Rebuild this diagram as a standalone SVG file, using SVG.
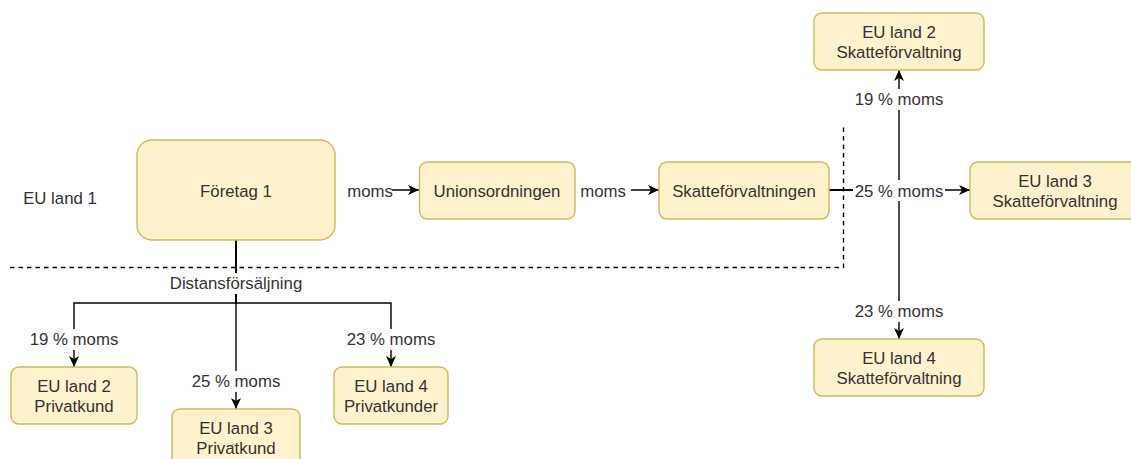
<svg xmlns="http://www.w3.org/2000/svg" width="1131" height="459" viewBox="0 0 1131 459">
<style>
.node{fill:#fff2cc;stroke:#d6b656;stroke-width:1.4}
.t{font-family:"Liberation Sans",Arial,sans-serif;font-size:16.8px;fill:#333333;text-anchor:middle}
.edge{fill:none;stroke:#000;stroke-width:1.4}
.dash{fill:none;stroke:#000;stroke-width:1.4;stroke-dasharray:4.5 4}
.bg{fill:#fff}
</style>
<defs>
<marker id="arr" markerUnits="userSpaceOnUse" markerWidth="12" markerHeight="12" viewBox="0 0 12 12" refX="11" refY="6" orient="auto">
<path d="M0,1 L11,6 L0,11 L3,6 z" fill="#000"/>
</marker>
</defs>
<rect width="1131" height="459" fill="#fff"/>
<g id="boundary">
<path class="dash" d="M10 267.5 H843.5 V127"/>
</g>
<text class="t" x="60" y="204">EU land 1</text>
<g id="connectors">
<path class="edge" d="M336 190 H419" marker-end="url(#arr)"/>
<path class="edge" d="M576 190 H659" marker-end="url(#arr)"/>
<path class="edge" d="M829 190 H970" marker-end="url(#arr)"/>
<path class="edge" d="M829 190 H899 V70" marker-end="url(#arr)"/>
<path class="edge" d="M829 190 H899 V339" marker-end="url(#arr)"/>
<path class="edge" d="M236 240 V303 H74 V367" marker-end="url(#arr)"/>
<path class="edge" d="M236 240 V409" marker-end="url(#arr)"/>
<path class="edge" d="M236 240 V303 H391 V367" marker-end="url(#arr)"/>
<rect class="bg" x="335" y="180" width="57" height="21"/>
<text class="t" x="370" y="197">moms</text>
<rect class="bg" x="575.5" y="180" width="55.5" height="21"/>
<text class="t" x="603" y="197">moms</text>
<rect class="bg" x="853" y="180" width="92" height="21"/>
<text class="t" x="899" y="197">25 % moms</text>
<rect class="bg" x="853" y="89" width="92" height="21"/>
<text class="t" x="899" y="105">19 % moms</text>
<rect class="bg" x="853" y="301" width="92" height="21"/>
<text class="t" x="899" y="317">23 % moms</text>
<rect class="bg" x="166" y="273" width="140" height="21"/>
<text class="t" x="236" y="289">Distansförsäljning</text>
<rect class="bg" x="28" y="329" width="92" height="21"/>
<text class="t" x="74" y="345">19 % moms</text>
<rect class="bg" x="190" y="371" width="92" height="21"/>
<text class="t" x="236" y="387">25 % moms</text>
<rect class="bg" x="345" y="329" width="92" height="21"/>
<text class="t" x="391" y="345">23 % moms</text>
</g>
<g id="foretag1">
<rect class="node" x="137" y="140" width="198" height="100" rx="15"/>
<text class="t" x="236" y="197">Företag 1</text>
</g>
<g id="unionsordningen">
<rect class="node" x="419.5" y="162" width="155.5" height="57" rx="8"/>
<text class="t" x="497" y="197">Unionsordningen</text>
</g>
<g id="skatteforvaltningen">
<rect class="node" x="659" y="162" width="170" height="57" rx="8"/>
<text class="t" x="744" y="197">Skatteförvaltningen</text>
</g>
<g id="eu2skatt">
<rect class="node" x="814" y="13" width="170" height="57" rx="8"/>
<text class="t" x="899" y="38">EU land 2</text>
<text class="t" x="899" y="58">Skatteförvaltning</text>
</g>
<g id="eu3skatt">
<rect class="node" x="970" y="162" width="170" height="57" rx="8"/>
<text class="t" x="1055" y="187">EU land 3</text>
<text class="t" x="1055" y="207">Skatteförvaltning</text>
</g>
<g id="eu4skatt">
<rect class="node" x="814" y="339" width="170" height="57" rx="8"/>
<text class="t" x="899" y="364">EU land 4</text>
<text class="t" x="899" y="384">Skatteförvaltning</text>
</g>
<g id="eu2priv">
<rect class="node" x="11" y="367" width="126" height="57" rx="8"/>
<text class="t" x="74" y="392">EU land 2</text>
<text class="t" x="74" y="412">Privatkund</text>
</g>
<g id="eu3priv">
<rect class="node" x="172" y="409" width="128" height="57" rx="8"/>
<text class="t" x="236" y="434">EU land 3</text>
<text class="t" x="236" y="454">Privatkund</text>
</g>
<g id="eu4priv">
<rect class="node" x="334" y="367" width="114" height="57" rx="8"/>
<text class="t" x="391" y="392">EU land 4</text>
<text class="t" x="391" y="412">Privatkunder</text>
</g>
</svg>
